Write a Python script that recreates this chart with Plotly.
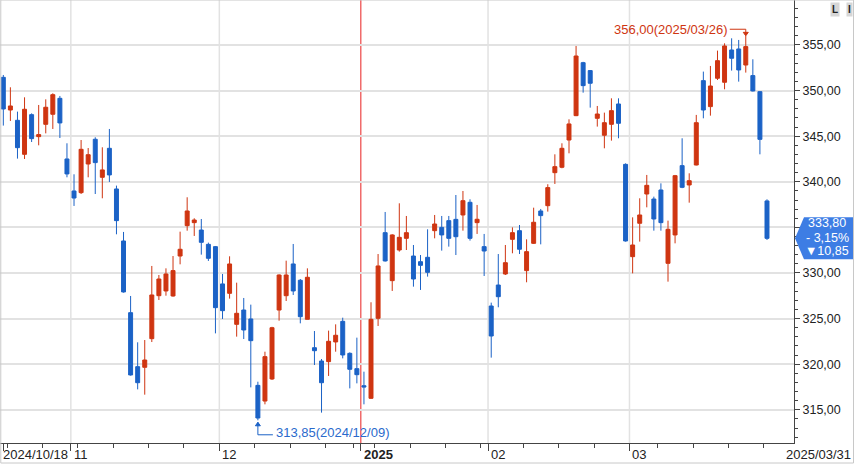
import pandas as pd
import plotly.graph_objects as go

# ---------------- data ----------------
holidays = ["2024-12-25", "2024-12-31", "2025-01-01", "2025-01-27", "2025-01-28",
            "2025-01-29", "2025-01-30", "2025-03-03"]
dates = [d.strftime("%Y-%m-%d") for d in pd.bdate_range("2024-10-18", "2025-03-31")
         if d.strftime("%Y-%m-%d") not in holidays]

opens = [351.45, 347.87, 346.74, 343.01, 347.36, 344.95, 346.30, 347.40, 349.15, 342.50,
         338.99, 338.81, 341.95, 344.66, 340.49, 343.67, 339.21, 333.51, 325.65, 319.73,
         319.66, 322.80, 327.51, 328.03, 327.48, 331.86, 335.19, 335.52, 334.71, 333.14,
         332.89, 328.80, 327.77, 324.37, 325.94, 324.96, 317.68, 315.96, 318.38, 325.94,
         327.51, 330.99, 329.20, 324.92, 321.81, 320.35, 320.28, 322.44, 324.70, 321.19,
         319.51, 317.64, 316.26, 325.03, 334.42, 329.16, 332.52, 333.80, 331.86, 331.24,
         331.72, 334.64, 335.00, 335.74, 335.88, 336.36, 337.75, 335.52, 332.89, 326.38,
         328.68, 329.89, 333.69, 334.64, 330.26, 333.25, 336.80, 337.38, 341.00, 341.59,
         344.58, 347.25, 353.06, 352.19, 346.96, 345.10, 346.30, 348.53, 341.91, 331.79,
         335.45, 338.66, 338.11, 339.10, 331.06, 334.17, 341.77, 339.65, 341.84, 351.09,
         348.24, 351.35, 350.91, 354.45, 354.56, 352.80, 351.64, 349.88, 337.90]
highs = [351.71, 350.36, 347.69, 349.26, 347.50, 348.42, 349.04, 349.70, 349.41, 344.22,
         340.82, 344.58, 343.70, 344.88, 343.78, 345.79, 339.58, 334.50, 327.48, 322.40,
         322.65, 330.77, 329.78, 330.51, 331.86, 334.53, 338.30, 336.00, 335.92, 333.33,
         332.96, 329.89, 331.83, 328.94, 327.26, 326.53, 318.08, 321.37, 324.10, 329.85,
         331.35, 333.18, 329.34, 330.51, 323.64, 320.57, 323.68, 324.37, 325.10, 321.30,
         322.91, 319.18, 326.79, 332.08, 336.69, 334.25, 337.64, 336.25, 333.07, 331.97,
         334.79, 336.36, 336.25, 336.25, 338.55, 338.99, 338.08, 337.46, 334.28, 326.75,
         332.08, 333.07, 335.00, 335.26, 333.69, 337.16, 337.02, 339.73, 343.01, 344.22,
         346.85, 354.89, 353.15, 352.25, 348.31, 347.58, 349.15, 349.15, 342.02, 336.10,
         338.19, 340.75, 338.37, 339.83, 335.74, 340.75, 344.77, 340.93, 347.33, 352.08,
         352.70, 354.38, 355.18, 355.73, 355.55, 356.00, 353.43, 349.95, 338.08]
lows = [346.16, 346.67, 342.54, 342.50, 344.36, 344.00, 345.31, 345.79, 344.80, 340.49,
        337.35, 338.66, 340.49, 338.66, 338.19, 339.98, 334.24, 327.85, 318.75, 317.24,
        316.66, 322.43, 327.04, 327.51, 327.40, 330.95, 334.64, 334.06, 332.01, 331.32,
        323.38, 324.96, 327.19, 323.02, 322.76, 317.46, 313.85, 315.60, 318.27, 324.77,
        326.93, 327.59, 324.48, 324.92, 319.91, 314.69, 318.71, 321.37, 320.64, 317.35,
        317.90, 315.60, 316.20, 324.19, 331.25, 328.03, 332.34, 332.52, 328.50, 328.14,
        329.60, 333.80, 332.45, 332.89, 331.97, 334.64, 333.55, 334.28, 329.67, 320.72,
        326.24, 329.78, 332.16, 332.08, 328.98, 333.18, 333.14, 336.73, 339.76, 341.48,
        343.12, 347.20, 349.77, 348.13, 346.05, 343.67, 344.51, 344.77, 333.44, 329.96,
        333.44, 337.20, 334.64, 334.64, 329.05, 333.25, 339.30, 337.71, 341.80, 346.96,
        347.25, 351.16, 350.14, 352.19, 350.98, 351.97, 349.90, 343.01, 333.62]
closes = [347.98, 348.31, 343.74, 347.95, 344.73, 345.17, 348.17, 349.55, 346.45, 340.86,
          338.22, 343.56, 342.97, 342.10, 341.30, 340.75, 335.74, 327.92, 318.82, 317.97,
          320.46, 327.59, 329.34, 329.89, 330.26, 332.60, 336.80, 335.81, 333.36, 331.61,
          326.20, 325.87, 330.99, 325.58, 323.75, 322.58, 314.10, 320.83, 324.00, 329.78,
          329.78, 328.03, 325.21, 329.53, 321.48, 317.97, 322.51, 323.17, 321.01, 319.44,
          318.85, 317.50, 324.92, 330.77, 331.32, 334.17, 333.91, 334.42, 329.34, 330.84,
          330.07, 335.37, 334.17, 333.80, 333.98, 337.93, 333.80, 335.89, 332.41, 323.09,
          327.40, 331.13, 334.42, 332.60, 332.34, 335.56, 336.29, 339.36, 341.66, 343.67,
          346.34, 353.79, 350.54, 350.80, 347.43, 346.48, 347.80, 346.41, 333.51, 333.07,
          336.36, 339.61, 335.92, 335.52, 334.79, 340.67, 339.39, 340.12, 346.48, 347.87,
          350.50, 353.28, 354.89, 353.54, 352.26, 354.82, 349.96, 344.65, 333.80]

price_ticks = [315, 320, 325, 330, 335, 340, 345, 350, 355]
high_label = "356,00(2025/03/26)"
low_label = "313,85(2024/12/09)"
tag_lines = ["333,80", "- 3,15%", "▼10,85"]

# ---------------- styling ----------------
RED = "#cf3511"
BLUE = "#1b62c6"
GRID = "#e2e2e2"
FONT = "Liberation Sans"
X0, X1 = -0.47, 111.82
Y0, Y1 = 311.36, 359.93
PLOT_W, PLOT_H = 794, 443
pxx = PLOT_W / (X1 - X0)
pxy = PLOT_H / (Y1 - Y0)

idx = list(range(len(dates)))

fig = go.Figure()
fig.add_trace(go.Candlestick(
    x=idx, open=opens, high=highs, low=lows, close=closes,
    hovertext=dates,
    increasing=dict(line=dict(color=RED, width=1), fillcolor=RED),
    decreasing=dict(line=dict(color=BLUE, width=1), fillcolor=BLUE),
    whiskerwidth=0, showlegend=False,
))

# month starts and weekly starts
month_idx = [i for i in range(1, len(dates)) if dates[i][5:7] != dates[i - 1][5:7]]
week_idx = []
for i in range(1, len(dates)):
    a = pd.Timestamp(dates[i]); b = pd.Timestamp(dates[i - 1])
    if a.isocalendar().week != b.isocalendar().week and i not in month_idx:
        week_idx.append(i)

shapes = []
for i in month_idx:
    yr_start = dates[i][:4] != dates[i - 1][:4]
    shapes.append(dict(type="line", xref="x", yref="paper", x0=i - 0.45, x1=i - 0.45,
                       y0=0, y1=1, layer="below",
                       line=dict(color="#f06a6a" if yr_start else GRID, width=1.5)))

# high marker elbow
hi_i = highs.index(max(highs))
hx = hi_i; hy = highs[hi_i]
dy_h = 6.6 / pxy
shapes.append(dict(type="path", xref="x", yref="y",
                   path=f"M {hx - 16/pxx} {hy + dy_h} L {hx} {hy + dy_h} L {hx} {hy + 1.2/pxy}",
                   line=dict(color=RED, width=1)))
shapes.append(dict(type="path", xref="x", yref="y",
                   path=f"M {hx - 2.5/pxx} {hy + 3.5/pxy} L {hx + 2.5/pxx} {hy + 3.5/pxy} L {hx} {hy} Z",
                   fillcolor=RED, line=dict(color=RED, width=1)))
# low marker elbow
lo_i = lows.index(min(lows))
lx = lo_i; ly = lows[lo_i]
shapes.append(dict(type="path", xref="x", yref="y",
                   path=f"M {lx} {ly - 2/pxy} L {lx} {ly - 14.5/pxy} L {lx + 15/pxx} {ly - 14.5/pxy}",
                   line=dict(color=BLUE, width=1)))
shapes.append(dict(type="path", xref="x", yref="y",
                   path=f"M {lx - 2.5/pxx} {ly - 5.5/pxy} L {lx + 2.5/pxx} {ly - 5.5/pxy} L {lx} {ly - 2/pxy} Z",
                   fillcolor=BLUE, line=dict(color=BLUE, width=1)))

# price tag (pentagon pointing left) at last close
last = closes[-1]
tag_cy = last
tx0 = 1 + 1 / PLOT_W
tx1 = 1 + 10 / PLOT_W
tx2 = 1 + 60 / PLOT_W
half = 21 / pxy
shapes.append(dict(type="path", xref="paper", yref="y",
                   path=(f"M {tx0} {tag_cy} L {tx1} {tag_cy + half} L {tx2} {tag_cy + half} "
                         f"L {tx2} {tag_cy - half} L {tx1} {tag_cy - half} Z"),
                   fillcolor="#3d7de4", line=dict(width=0)))
# outer frame
shapes.append(dict(type="rect", xref="paper", yref="paper", x0=0.001, x1=1 + 59.5 / PLOT_W,
                   y0=-20 / PLOT_H, y1=1, line=dict(color="#c8c8c8", width=1)))

# price labels (the one hidden under the tag is left blank, as in the picture)
price_text = [("" if abs(v - last) < 2.5 else f"{v:.2f}".replace(".", ",")) for v in price_ticks]

annotations = []
axis_font = dict(family=FONT, size=13, color="#222")
# x labels
annotations.append(dict(x=X0, y=0, xref="x", yref="paper", text=dates[0].replace("-", "/"),
                        xanchor="left", yanchor="middle", yshift=-11, xshift=1, showarrow=False,
                        font=axis_font))
for i in month_idx:
    yr_start = dates[i][:4] != dates[i - 1][:4]
    txt = f"<b>{dates[i][:4]}</b>" if yr_start else dates[i][5:7]
    annotations.append(dict(x=i - 0.45, y=0, xref="x", yref="paper", text=txt,
                            xanchor="left", yanchor="middle", yshift=-11, xshift=1,
                            showarrow=False, font=axis_font))
annotations.append(dict(x=1, y=0, xref="paper", yref="paper", text=dates[-1].replace("-", "/"),
                        xanchor="right", yanchor="middle", yshift=-11, xshift=59,
                        showarrow=False, font=axis_font))
# high / low labels
annotations.append(dict(x=hx, y=hy, xref="x", yref="y", text=high_label, xanchor="right",
                        yanchor="middle", xshift=-17, yshift=6.6, showarrow=False,
                        font=dict(family=FONT, size=13, color=RED)))
annotations.append(dict(x=lx, y=ly, xref="x", yref="y", text=low_label, xanchor="left",
                        yanchor="middle", xshift=16, yshift=-12, showarrow=False,
                        font=dict(family=FONT, size=13, color="#2a6acc")))
# tag text (three lines)
for line_txt, ys in zip(tag_lines, [15, 0, -13]):
    annotations.append(dict(x=1, y=tag_cy, xref="paper", yref="y", text=line_txt,
                            xanchor="center", yanchor="middle", xshift=33, yshift=ys,
                            showarrow=False,
                            font=dict(family=FONT, size=12.5, color="white")))
# L I buttons
annotations.append(dict(x=1, y=1, xref="paper", yref="paper", text="<b>L</b>", xanchor="left",
                        yanchor="top", xshift=36, yshift=-2, showarrow=False, bgcolor="#d6d6d6",
                        borderpad=1, font=dict(family=FONT, size=10, color="#222")))
annotations.append(dict(x=1, y=1, xref="paper", yref="paper", text="<b>I</b>", xanchor="left",
                        yanchor="top", xshift=52, yshift=-2, showarrow=False, bgcolor="#d6d6d6",
                        borderpad=1, font=dict(family=FONT, size=10, color="#222")))

fig.update_layout(
    width=854, height=464,
    margin=dict(l=0, r=60, t=0, b=21),
    paper_bgcolor="white", plot_bgcolor="white",
    boxgap=0.2,
    showlegend=False,
    shapes=shapes, annotations=annotations,
    xaxis=dict(range=[X0, X1], rangeslider=dict(visible=False), showgrid=False, zeroline=False,
               tickmode="array", tickvals=[X0 + 0.45] + [i - 0.45 for i in month_idx],
               ticktext=[""] * (len(month_idx) + 1), ticks="outside", ticklen=7,
               tickcolor="#444", showline=True, linecolor="#444", linewidth=1,
               minor=dict(tickmode="array", tickvals=[i - 0.45 for i in week_idx],
                          ticks="outside", ticklen=4, tickcolor="#444")),
    yaxis=dict(range=[Y0, Y1], side="right", tickmode="array", tickvals=price_ticks,
               ticktext=price_text, ticks="outside", ticklen=5, tickcolor="#444",
               showgrid=True, gridcolor=GRID, gridwidth=1.5, zeroline=False,
               showline=True, linecolor="#444", linewidth=1,
               tickfont=dict(family=FONT, size=12.5, color="#222"),
               minor=dict(dtick=1, tick0=0, ticks="outside", ticklen=3, tickcolor="#444",
                          showgrid=False)),
    hovermode="x",
)

fig.write_html("out.html", config={"displayModeBar": False},
               post_script="document.body.style.margin='0';")
